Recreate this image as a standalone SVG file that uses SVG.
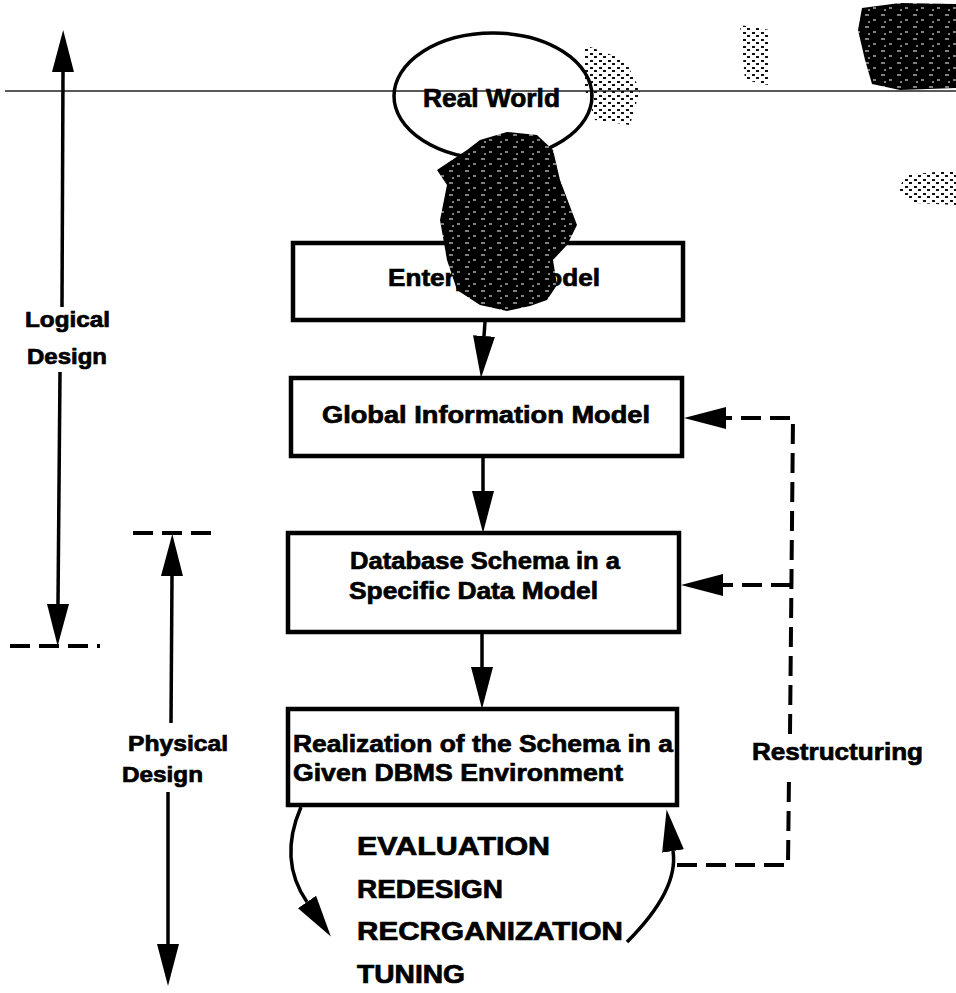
<svg xmlns="http://www.w3.org/2000/svg" width="956" height="993" viewBox="0 0 956 993">
  <style>
    .box { fill: none; stroke: #000; stroke-width: 4.5; }
    .ell { fill: none; stroke: #000; stroke-width: 3.5; }
    .ln { fill: none; stroke: #000; stroke-width: 3.5; }
    .dash { fill: none; stroke: #000; stroke-width: 4; stroke-dasharray: 20 9; }
    .t { font-family: "Liberation Sans", Arial, Helvetica, sans-serif; font-weight: bold; fill: #000; stroke: #000; stroke-width: 0.7; }
    .tb { font-size: 24px; }
    .tl { font-size: 25px; }
    .ts { font-size: 22px; }
  </style>
  <defs>
    <marker id="ah" markerUnits="userSpaceOnUse" markerWidth="44" markerHeight="24" refX="0" refY="11" orient="auto" viewBox="0 0 44 24">
      <path d="M0,0 L42,11 L0,22 z" fill="#000"/>
    </marker>
    <pattern id="grain" width="16" height="12" patternUnits="userSpaceOnUse">
      <rect width="16" height="12" fill="#000"/>
      <path d="M1,3 h4 M9,8 h3 M4,10 h2" stroke="#fff" stroke-width="1"/>
    </pattern>
    <pattern id="speck" width="9" height="7" patternUnits="userSpaceOnUse">
      <rect x="0" y="0" width="3" height="2" fill="#111"/>
      <rect x="5" y="4" width="3" height="2" fill="#111"/>
    </pattern>
  </defs>

  <rect width="956" height="993" fill="#fff"/>

  <!-- scan artifacts -->
  <g id="scan-marks">
    <line x1="5" y1="91" x2="956" y2="91" stroke="#222" stroke-width="1.5"/>
    <path d="M862,8 L900,3 L956,4 L956,88 L900,90 L872,84 L865,60 L858,30 z" fill="url(#grain)"/>
    <path d="M905,175 L956,170 L956,205 L915,203 L898,192 z" fill="url(#speck)"/>
    <path d="M585,45 L625,60 L640,90 L630,125 L595,120 L585,90 z" fill="url(#speck)"/>
    <path d="M740,25 L770,30 L768,85 L745,80 z" fill="url(#speck)"/>
  </g>

  <g id="connectors">
    <!-- Logical design extent -->
    <line class="ln" x1="62" y1="307" x2="63" y2="72" marker-end="url(#ah)"/>
    <line class="ln" x1="60" y1="372" x2="58" y2="604" marker-end="url(#ah)"/>
    <line class="dash" x1="10" y1="646" x2="100" y2="646"/>
    <!-- Physical design extent -->
    <line class="dash" x1="133" y1="533" x2="216" y2="533"/>
    <line class="ln" x1="171" y1="723" x2="172" y2="576" marker-end="url(#ah)"/>
    <line class="ln" x1="168" y1="792" x2="168" y2="944" marker-end="url(#ah)"/>
    <!-- main flow -->
    <line class="ln" x1="485" y1="322" x2="484" y2="336" marker-end="url(#ah)"/>
    <line class="ln" x1="483" y1="458" x2="483" y2="491" marker-end="url(#ah)"/>
    <line class="ln" x1="482" y1="634" x2="482" y2="667" marker-end="url(#ah)"/>
    <!-- evaluation loop -->
    <path class="ln" d="M301,807 Q278,860 307,902" marker-end="url(#ah)"/>
    <path class="ln" d="M627,942 Q679,890 673,851" marker-end="url(#ah)"/>
    <!-- restructuring feedback -->
    <path class="dash" d="M677,865 L788,865 L789,776"/>
    <path class="dash" d="M790,734 L793,418 L726,418" marker-end="url(#ah)"/>
    <path class="dash" d="M791,585 L723,585" marker-end="url(#ah)"/>
  </g>

  <g id="real-world">
    <ellipse class="ell" cx="493" cy="96" rx="99" ry="63"/>
    <text class="t tl" x="423" y="107" textLength="137" lengthAdjust="spacingAndGlyphs">Real World</text>
  </g>

  <g id="enterprise-model">
    <rect class="box" x="293" y="243" width="390" height="77"/>
    <text class="t tb" x="388" y="286" textLength="212" lengthAdjust="spacingAndGlyphs">Enterprise Model</text>
  </g>

  <g id="noise-blob">
    <path d="M480,140 L507,132 L537,135 L553,150 L560,180 L577,225 L567,245 L553,260 L557,285 L547,300 L530,306 L507,311 L480,305 L457,290 L447,260 L440,220 L447,185 L437,170 L467,150 z" fill="url(#grain)"/>
  </g>

  <g id="global-information-model">
    <rect class="box" x="291" y="378" width="391" height="78"/>
    <text class="t tb" x="322" y="423" textLength="328" lengthAdjust="spacingAndGlyphs">Global Information Model</text>
  </g>

  <g id="database-schema">
    <rect class="box" x="288" y="533" width="391" height="99"/>
    <text class="t tb" x="350" y="569" textLength="270" lengthAdjust="spacingAndGlyphs">Database Schema in a</text>
    <text class="t tb" x="349" y="599" textLength="249" lengthAdjust="spacingAndGlyphs">Specific Data Model</text>
  </g>

  <g id="realization">
    <rect class="box" x="288" y="709" width="389" height="96"/>
    <text class="t tb" x="293" y="752" textLength="380" lengthAdjust="spacingAndGlyphs">Realization of the Schema in a</text>
    <text class="t tb" x="293" y="781" textLength="330" lengthAdjust="spacingAndGlyphs">Given DBMS Environment</text>
  </g>

  <g id="loop-labels">
    <text class="t tl" x="357" y="855" textLength="193" lengthAdjust="spacingAndGlyphs">EVALUATION</text>
    <text class="t tl" x="357" y="898" textLength="146" lengthAdjust="spacingAndGlyphs">REDESIGN</text>
    <text class="t tl" x="357" y="940" textLength="266" lengthAdjust="spacingAndGlyphs">RECRGANIZATION</text>
    <text class="t tl" x="357" y="983" textLength="108" lengthAdjust="spacingAndGlyphs">TUNING</text>
  </g>

  <g id="restructuring-label">
    <text class="t tb" x="752" y="760" textLength="171" lengthAdjust="spacingAndGlyphs">Restructuring</text>
  </g>

  <g id="logical-design-label">
    <text class="t ts" x="25" y="327" textLength="85" lengthAdjust="spacingAndGlyphs">Logical</text>
    <text class="t ts" x="27" y="364" textLength="80" lengthAdjust="spacingAndGlyphs">Design</text>
  </g>

  <g id="physical-design-label">
    <text class="t ts" x="128" y="751" textLength="100" lengthAdjust="spacingAndGlyphs">Physical</text>
    <text class="t ts" x="122" y="782" textLength="81" lengthAdjust="spacingAndGlyphs">Design</text>
  </g>
</svg>
